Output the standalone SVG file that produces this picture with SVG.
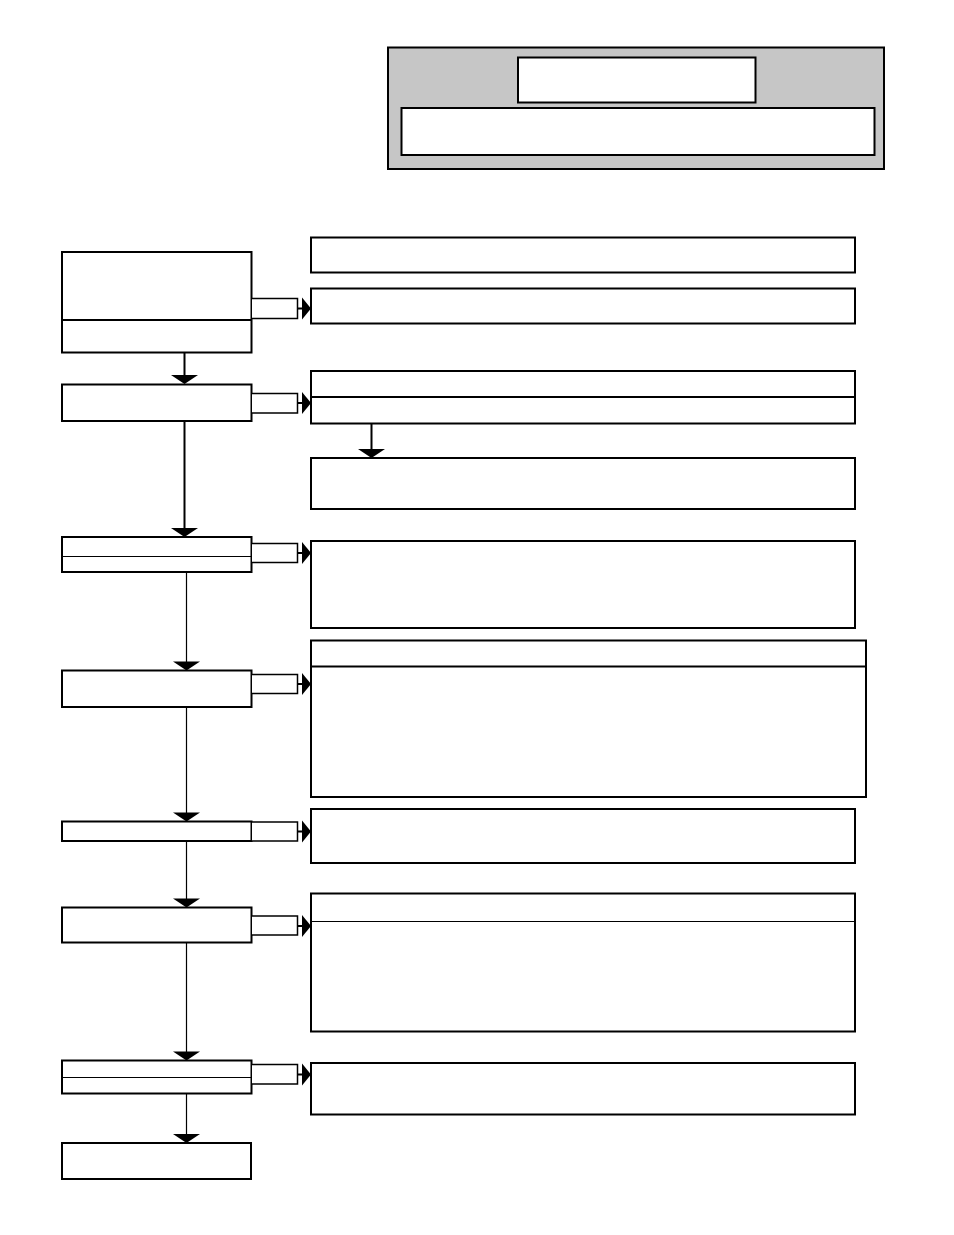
<svg xmlns="http://www.w3.org/2000/svg" width="954" height="1235" viewBox="0 0 954 1235">
<style>
.box{fill:#fff;stroke:#000;stroke-width:2}
.div{stroke:#000;stroke-width:2}
.divt{stroke:#000;stroke-width:1}
.stub{fill:#fff;stroke:#000;stroke-width:1.5}
.ln{stroke:#000;stroke-width:2;fill:none}
.lnt{stroke:#000;stroke-width:1.2;fill:none}
.ah{fill:#000}
</style>
<rect width="954" height="1235" fill="#fff"/>
<g id="header">
<rect x="388" y="47.5" width="496" height="121.5" fill="#c6c6c6" stroke="#000" stroke-width="2"/>
<rect class="box" x="518" y="57.5" width="237.5" height="45"/>
<rect class="box" x="401.5" y="108" width="473" height="47"/>
</g>
<g id="L1"><rect class="box" x="62" y="252" width="189.5" height="100.5"/><line class="div" x1="62" y1="320" x2="251.5" y2="320"/></g>
<g id="L2"><rect class="box" x="62" y="384.5" width="189.5" height="36.5"/></g>
<g id="L3"><rect class="box" x="62" y="537" width="189.5" height="35"/><line class="divt" x1="62" y1="556.5" x2="251.5" y2="556.5"/></g>
<g id="L4"><rect class="box" x="62" y="670.5" width="189.5" height="36.5"/></g>
<g id="L5"><rect class="box" x="62" y="821.5" width="189.5" height="19.5"/></g>
<g id="L6"><rect class="box" x="62" y="907.5" width="189.5" height="35"/></g>
<g id="L7"><rect class="box" x="62" y="1060.5" width="189.5" height="33"/><line class="divt" x1="62" y1="1077.5" x2="251.5" y2="1077.5"/></g>
<g id="L8"><rect class="box" x="62" y="1143" width="189" height="36"/></g>
<g id="R1"><rect class="box" x="311" y="237.5" width="544" height="35"/></g>
<g id="R2"><rect class="box" x="311" y="288.5" width="544" height="35"/></g>
<g id="R3"><rect class="box" x="311" y="371" width="544" height="52.5"/><line class="div" x1="311" y1="397" x2="855" y2="397"/></g>
<g id="R3b"><rect class="box" x="311" y="458" width="544" height="51"/></g>
<g id="R4"><rect class="box" x="311" y="541" width="544" height="87"/></g>
<g id="R5"><rect class="box" x="311" y="640.5" width="555" height="156.5"/><line class="div" x1="311" y1="666.5" x2="866" y2="666.5"/></g>
<g id="R6"><rect class="box" x="311" y="809" width="544" height="54"/></g>
<g id="R7"><rect class="box" x="311" y="893.5" width="544" height="138"/><line class="divt" x1="311" y1="921.5" x2="855" y2="921.5"/></g>
<g id="R8"><rect class="box" x="311" y="1063" width="544" height="51.5"/></g>
<g id="connectors">
<path class="stub" d="M252 298.5H297.5V318.5H252"/>
<path class="stub" d="M252 393.5H297.5V413H252"/>
<path class="stub" d="M252 543.5H297.5V562.5H252"/>
<path class="stub" d="M252 674.5H297.5V693.5H252"/>
<path class="stub" d="M252 822H297.5V841H252"/>
<path class="stub" d="M252 916H297.5V935H252"/>
<path class="stub" d="M252 1064.5H297.5V1084H252"/>
<path class="ln" d="M297 308.5H303M297 403H303M297 553H303M297 684H303M297 831.5H303M297 926H303M297 1074.5H303"/>
<polygon class="ah" points="302,297.5 311,308.5 302,319.5"/>
<polygon class="ah" points="302,392 311,403 302,414"/>
<polygon class="ah" points="302,542 311,553 302,564"/>
<polygon class="ah" points="302,673 311,684 302,695"/>
<polygon class="ah" points="302,820.5 311,831.5 302,842.5"/>
<polygon class="ah" points="302,915 311,926 302,937"/>
<polygon class="ah" points="302,1063.5 311,1074.5 302,1085.5"/>
<path class="ln" d="M184.5 353V377M184.5 421V530M371.5 423.5V450"/>
<path class="lnt" d="M186.5 572V663M186.5 707V814M186.5 841V900M186.5 942V1053M186.5 1093V1136"/>
<polygon class="ah" points="171,375 198,375 184.5,384"/>
<polygon class="ah" points="171,528 198,528 184.5,537"/>
<polygon class="ah" points="173,661.5 200,661.5 186.5,670.5"/>
<polygon class="ah" points="173,812.5 200,812.5 186.5,821.5"/>
<polygon class="ah" points="173,898.5 200,898.5 186.5,907.5"/>
<polygon class="ah" points="173,1051.5 200,1051.5 186.5,1060.5"/>
<polygon class="ah" points="173,1134 200,1134 186.5,1143"/>
<polygon class="ah" points="358,449 385,449 371.5,458"/>
</g>
</svg>
